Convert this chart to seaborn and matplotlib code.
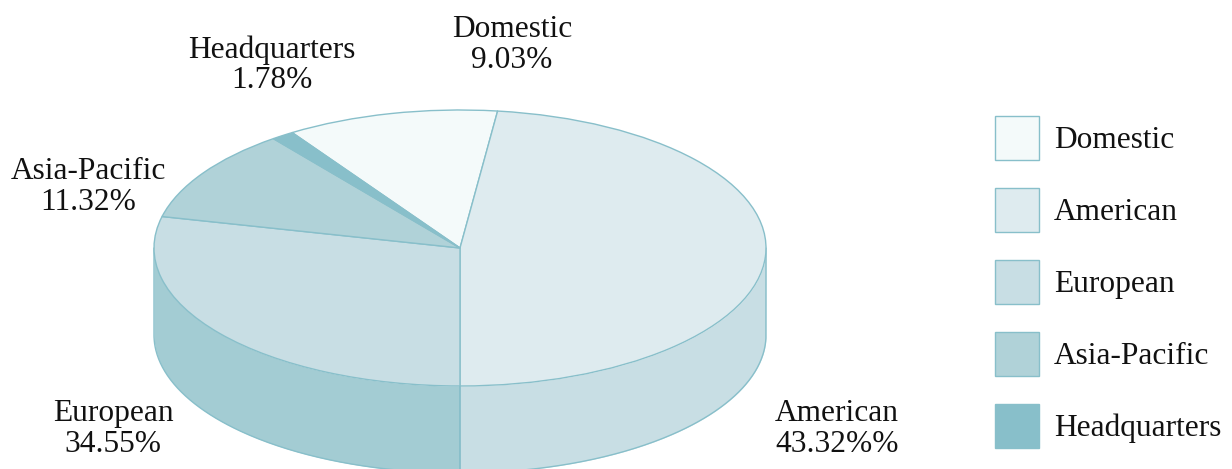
import numpy as np
import matplotlib
matplotlib.use("Agg")
import matplotlib.pyplot as plt
from matplotlib.patches import Patch
import seaborn as sns

categories = ["Domestic", "American", "European", "Asia-Pacific", "Headquarters"]
label_values = ["9.03%", "43.32%%", "34.55%", "11.32%", "1.78%"]
# slice sizes as drawn in the picture (they do not follow the printed labels)
drawn_shares = [11.2, 48.04, 28.66, 10.9, 1.2]

top_colors = ["#F4FAFA", "#DEEBEF", "#C8DEE4", "#B0D2D8", "#88BFCA"]
side_colors = {"American": "#C8DEE4", "European": "#A3CCD3"}
edge_color = "#88BFCA"

sns.set_theme(style="white")
plt.rcParams["font.family"] = ["Liberation Serif", "DejaVu Serif"]

W, H = 1232, 469
cx, cy, rx, ry, depth = 460, 248, 306, 138, 87
start_angle = 123.26
font_size = 22.6

fig = plt.figure(figsize=(W / 100, H / 100), dpi=100)
ax = fig.add_axes([0, 0, 1, 1])

# side wall first, the pie goes on top of it
bounds = start_angle - np.cumsum([0] + drawn_shares) * 3.6
for i, name in enumerate(categories):
    if name not in side_colors:
        continue
    # only the front half of the ellipse is visible
    a0 = min(bounds[i], 0)
    a1 = max(bounds[i + 1], -180)
    t = np.radians(np.linspace(a0, a1, 200))
    x = np.cos(t)
    y = np.sin(t)
    bottom = y - depth / ry
    ax.fill_between(x, y, bottom, color=side_colors[name], lw=0, zorder=1)
    ax.plot(np.r_[x[0], x, x[-1]], np.r_[y[0], bottom, y[-1]], color=edge_color, lw=1,
            solid_joinstyle="round", zorder=2)

wedges, _ = ax.pie(drawn_shares, colors=top_colors, startangle=start_angle,
                   counterclock=False, radius=1,
                   wedgeprops=dict(edgecolor=edge_color, linewidth=1, zorder=3))
wedges[4].set_edgecolor(top_colors[4])
ax.set_aspect("auto")
ax.set_xlim(-cx / rx, (W - cx) / rx)
ax.set_ylim(-(H - cy) / ry, cy / ry)
ax.set_axis_off()

label_pos = [(512, 45), (837, 429), (113, 429), (88, 187), (272, 65)]
for name, val, (px, py) in zip(categories, label_values, label_pos):
    fig.text(px / W, 1 - py / H, f"{name}\n{val}", ha="center", va="center",
             ma="center", fontsize=font_size, linespacing=1.06, color="#111111")

px_font = font_size * 100 / 72
handles = [Patch(facecolor=c, edgecolor=edge_color, linewidth=1) for c in top_colors]
fig.legend(handles, categories, loc="upper left", bbox_to_anchor=(995 / W, 1 - 116 / H),
           frameon=False, fontsize=font_size, borderpad=0, borderaxespad=0,
           handlelength=44 / px_font, handleheight=1.777,
           handletextpad=15 / px_font, labelspacing=28 / px_font, labelcolor="#111111")

fig.savefig("out.png", dpi=100)
